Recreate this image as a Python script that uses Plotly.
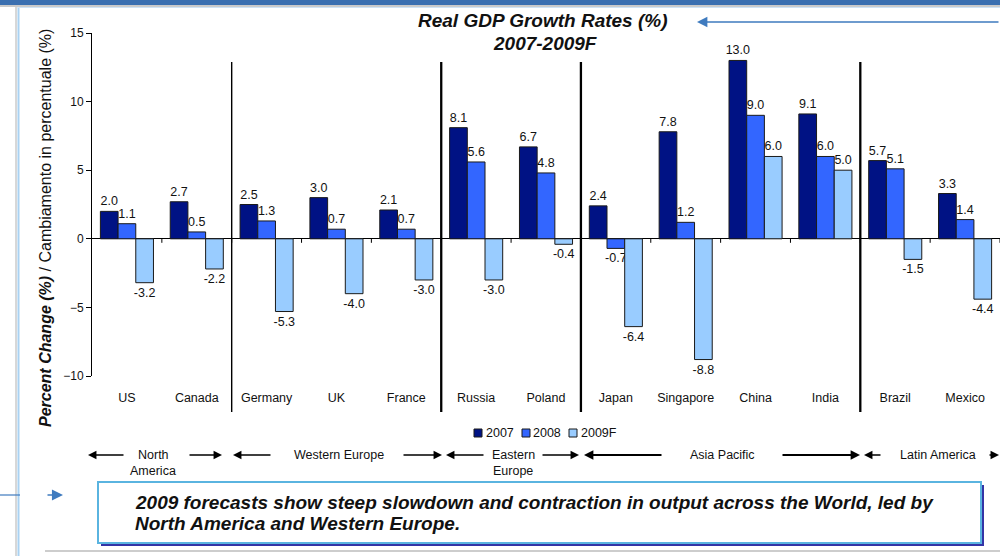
import plotly.graph_objects as go

# ---- data -------------------------------------------------------------
countries = ["US", "Canada", "Germany", "UK", "France", "Russia", "Poland",
             "Japan", "Singapore", "China", "India", "Brazil", "Mexico"]
gdp_2007 = [2.0, 2.7, 2.5, 3.0, 2.1, 8.1, 6.7, 2.4, 7.8, 13.0, 9.1, 5.7, 3.3]
gdp_2008 = [1.1, 0.5, 1.3, 0.7, 0.7, 5.6, 4.8, -0.7, 1.2, 9.0, 6.0, 5.1, 1.4]
gdp_2009f = [-3.2, -2.2, -5.3, -4.0, -3.0, -3.0, -0.4, -6.4, -8.8, 6.0, 5.0, -1.5, -4.4]
series_names = ["2007", "2008", "2009F"]
y_ticks = [-10, -5, 0, 5, 10, 15]

# regions: label lines, first and last country index
regions = [
    (["North", "America"], 0, 1),
    (["Western Europe"], 2, 4),
    (["Eastern", "Europe"], 5, 6),
    (["Asia Pacific"], 7, 10),
    (["Latin America"], 11, 12),
]

callout_lines = [
    "2009 forecasts show steep slowdown and contraction in output across the World, led by",
    "North America and Western Europe.",
]

# ---- styling ------------------------------------------------------------
COLORS = ["#001284", "#3366ff", "#99ccff"]
OUTLINE = "#1a1a1a"
TEXT = "#111111"
ACCENT = "#3f7bbf"
FONT = "Liberation Sans, Arial, sans-serif"

W, H = 1000, 556
L, R, T, B = 92, 1000, 33, 376  # plot area in pixels


def fx(px):
    return (px - L) / (R - L)


def fy(py):
    return (B - py) / (B - T)


fig = go.Figure()
for name, vals, color in zip(series_names, [gdp_2007, gdp_2008, gdp_2009f], COLORS):
    fig.add_trace(go.Bar(
        x=countries, y=vals, name=name,
        marker=dict(color=color, line=dict(color=OUTLINE, width=1)),
        text=[f"{v:.1f}" for v in vals],
        textposition="outside", constraintext="none", cliponaxis=False,
        textfont=dict(size=12.5, color=TEXT, family=FONT),
        hoverinfo="x+y+name",
    ))

shapes = []
annotations = []

# small ticks hanging below the zero line at category boundaries
for i in range(len(countries)):
    shapes.append(dict(type="line", xref="x", yref="y", ysizemode="pixel",
                       yanchor=0, x0=i + 0.5, x1=i + 0.5, y0=0, y1=-4,
                       line=dict(color="black", width=1)))

# vertical separators between regions
for k, (_, start, end) in enumerate(regions[:-1]):
    shapes.append(dict(type="line", xref="x", yref="paper",
                       x0=end + 0.5, x1=end + 0.5, y0=fy(412), y1=fy(62),
                       line=dict(color="black", width=1.4 if k == 0 else 2.3)))

# page decoration: top band, left border, bottom rule
shapes += [
    dict(type="rect", xref="paper", yref="paper", x0=fx(0), x1=fx(1000),
         y0=fy(5), y1=fy(-2), fillcolor="#3a6fb0", line=dict(width=0), layer="above"),
    dict(type="line", xref="paper", yref="paper", x0=fx(0), x1=fx(1000),
         y0=fy(6), y1=fy(6), line=dict(color="#b8b8b8", width=1.5)),
    dict(type="line", xref="paper", yref="paper", x0=fx(16), x1=fx(16),
         y0=fy(7), y1=fy(560), line=dict(color="#b0b0b0", width=1)),
    dict(type="line", xref="paper", yref="paper", x0=fx(18.5), x1=fx(18.5),
         y0=fy(7), y1=fy(560), line=dict(color="#a9d2f2", width=2)),
    dict(type="line", xref="paper", yref="paper", x0=fx(18), x1=fx(1000),
         y0=fy(7.5), y1=fy(7.5), line=dict(color="#cfe3f5", width=1)),
    dict(type="line", xref="paper", yref="paper", x0=fx(45), x1=fx(1000),
         y0=fy(551), y1=fy(551), line=dict(color="#bdbdbd", width=1.5)),
    dict(type="line", xref="paper", yref="paper", x0=fx(0), x1=fx(20),
         y0=fy(495), y1=fy(495), line=dict(color=ACCENT, width=1.2)),
    # callout box with shadow
    dict(type="rect", xref="paper", yref="paper", x0=fx(101), x1=fx(984),
         y0=fy(546), y1=fy(485), fillcolor="#3434a6", line=dict(width=0)),
    dict(type="rect", xref="paper", yref="paper", x0=fx(98), x1=fx(981),
         y0=fy(543), y1=fy(482), fillcolor="white",
         line=dict(color="#5ab4e0", width=2)),
]

# legend drawn as swatches + labels
legend_pos = [(474, 484), (522, 531), (569, 579)]
for (sx, tx), name, color in zip(legend_pos, series_names, COLORS):
    shapes.append(dict(type="rect", xref="paper", yref="paper",
                       x0=fx(sx), x1=fx(sx + 8), y0=fy(437), y1=fy(429),
                       fillcolor=color, line=dict(color=OUTLINE, width=1)))
    annotations.append(dict(text=name, xref="paper", yref="paper", x=fx(tx),
                            y=fy(433), xanchor="left", yanchor="middle",
                            showarrow=False, font=dict(size=12.5, color=TEXT)))

# region labels with arrows
region_text_x = [153, 339, 513, 722, 938]
region_arrows = [
    ((88, 125), (188, 222)),
    ((233, 272), (402, 442)),
    ((446, 485), (541, 579)),
    ((584, 663), (781, 860)),
    ((864, 882), (988, 1004)),
]
arrow_y = fy(455)
for (lines, _, _), cx, (left, right) in zip(regions, region_text_x, region_arrows):
    for j, line in enumerate(lines):
        annotations.append(dict(text=line, xref="paper", yref="paper", x=fx(cx),
                                y=fy(455 + 16 * j), xanchor="center", yanchor="middle",
                                showarrow=False, font=dict(size=12.5, color=TEXT)))
    width = 2.2 if lines[0] == "Asia Pacific" else 1.3
    size = 0.85 if width > 2 else 1.3
    # left arrow: head at left[0], tail at left[1]
    annotations.append(dict(text="", xref="paper", yref="paper", x=fx(left[0]), y=arrow_y,
                            ax=left[1] - left[0], ay=0, showarrow=True,
                            arrowhead=2, arrowsize=size,
                            arrowwidth=width, arrowcolor="black"))
    annotations.append(dict(text="", xref="paper", yref="paper", x=fx(right[1]), y=arrow_y,
                            ax=right[0] - right[1], ay=0, showarrow=True,
                            arrowhead=2, arrowsize=size,
                            arrowwidth=width, arrowcolor="black"))

# title
annotations += [
    dict(text="<b><i>Real GDP Growth Rates (%)</i></b>", xref="paper", yref="paper",
         x=fx(543), y=fy(20), xanchor="center", yanchor="middle", showarrow=False,
         font=dict(size=19, color=TEXT)),
    dict(text="<b><i>2007-2009F</i></b>", xref="paper", yref="paper",
         x=fx(545), y=fy(44), xanchor="center", yanchor="middle", showarrow=False,
         font=dict(size=19, color=TEXT)),
    dict(text="", xref="paper", yref="paper", x=fx(697), y=fy(22),
         ax=310, ay=0, showarrow=True, arrowhead=2, arrowsize=1.6,
         arrowwidth=1.3, arrowcolor=ACCENT),
    dict(text="", xref="paper", yref="paper", x=fx(63), y=fy(495),
         ax=-17, ay=0, showarrow=True, arrowhead=2, arrowsize=1.7,
         arrowwidth=1.3, arrowcolor=ACCENT),
    # axis title
    dict(text="<b><i>Percent Change (%)</i></b> / Cambiamento in percentuale (%)",
         xref="paper", yref="paper", x=fx(45), y=fy(228), textangle=-90,
         xanchor="center", yanchor="middle", showarrow=False,
         font=dict(size=16, color=TEXT)),
]

# callout message, one annotation per line
for j, line in enumerate(callout_lines):
    annotations.append(dict(text=f"<b><i>{line}</i></b>", xref="paper", yref="paper",
                            x=fx(133), y=fy(502 + 21 * j), xanchor="left",
                            yanchor="middle", showarrow=False,
                            font=dict(size=19, color=TEXT)))

fig.update_layout(
    width=W, height=H,
    margin=dict(l=L, r=W - R, t=T, b=H - B, pad=0),
    barmode="group", bargap=0.24, bargroupgap=0,
    plot_bgcolor="white", paper_bgcolor="white",
    showlegend=False,
    font=dict(family=FONT, color=TEXT),
    shapes=shapes, annotations=annotations,
    xaxis=dict(range=[-0.5, len(countries) - 0.5], showgrid=False, showline=False,
               zeroline=False, ticks="outside", ticklen=10,
               tickcolor="rgba(0,0,0,0)", tickfont=dict(size=12.5, color=TEXT)),
    yaxis=dict(range=[y_ticks[0], y_ticks[-1]], tickvals=y_ticks, showgrid=False,
               showline=True, linecolor="black", linewidth=1, ticks="outside",
               ticklen=5, tickcolor="black", zeroline=True, zerolinecolor="black",
               zerolinewidth=1, tickfont=dict(size=12, color=TEXT)),
)

fig.write_html("out.html")
